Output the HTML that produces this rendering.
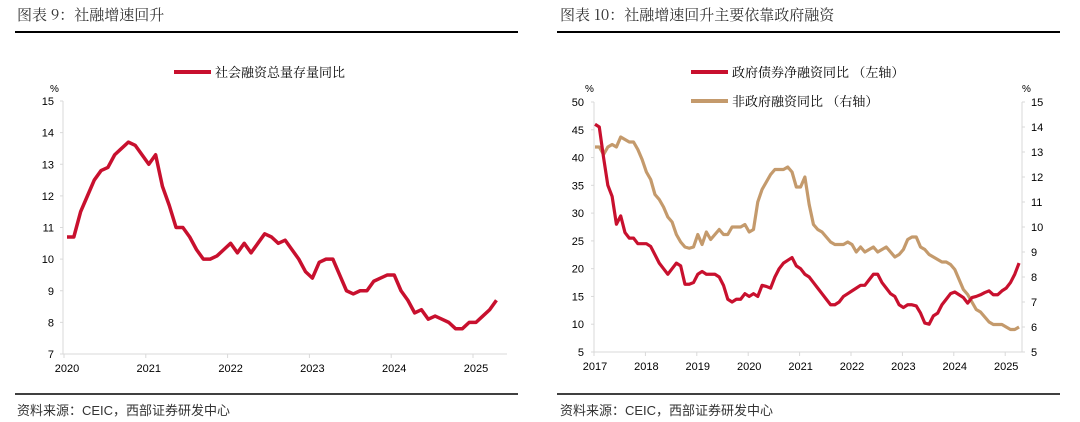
<!DOCTYPE html>
<html><head><meta charset="utf-8"><style>
body{margin:0;background:#fff;width:1080px;height:422px;overflow:hidden;font-family:"Liberation Sans","Noto Sans CJK SC",sans-serif}
svg{position:absolute;left:0;top:0}
</style></head><body>
<svg id="s" width="1080" height="422" font-family="Liberation Sans, Noto Sans CJK SC, sans-serif">
<text x="17" y="20" font-size="15" fill="#333" font-family="Noto Serif CJK SC, serif">图表 9：社融增速回升</text>
<line x1="15" y1="32" x2="518" y2="32" stroke="#000" stroke-width="2"/>
<text x="560" y="20" font-size="15" fill="#333" font-family="Noto Serif CJK SC, serif">图表 10：社融增速回升主要依靠政府融资</text>
<line x1="557" y1="32" x2="1060" y2="32" stroke="#000" stroke-width="2"/>
<line x1="15" y1="394" x2="518" y2="394" stroke="#000" stroke-width="1.5"/>
<line x1="557" y1="394" x2="1060" y2="394" stroke="#000" stroke-width="1.5"/>
<text x="17" y="415" font-size="13" fill="#333">资料来源：CEIC，西部证券研发中心</text>
<text x="560" y="415" font-size="13" fill="#333">资料来源：CEIC，西部证券研发中心</text>
<g id="L"></g><g id="R"></g>
</svg>
<script>
const leftYears=["2020","2021","2022","2023","2024","2025"];
const leftTicks=[7,8,9,10,11,12,13,14,15];
const tsfGrowth=[10.7,10.7,11.5,12.0,12.5,12.8,12.9,13.3,13.5,13.7,13.6,13.3,
13.0,13.3,12.3,11.7,11.0,11.0,10.7,10.3,10.0,10.0,10.1,10.3,
10.5,10.2,10.5,10.2,10.5,10.8,10.7,10.5,10.6,10.3,10.0,9.6,
9.4,9.9,10.0,10.0,9.5,9.0,8.9,9.0,9.0,9.3,9.4,9.5,
9.5,9.0,8.7,8.3,8.4,8.1,8.2,8.1,8.0,7.8,7.8,8.0,
8.0,8.2,8.4,8.7];
const rightYears=["2017","2018","2019","2020","2021","2022","2023","2024","2025"];
const rightLeftTicks=[5,10,15,20,25,30,35,40,45,50];
const rightRightTicks=[5,6,7,8,9,10,11,12,13,14,15];
const govBond=[46,45.5,40,35,33,28,29.5,26.5,25.5,25.5,24.5,24.5,
24.5,24,22.5,21,20,19,20,21,20.5,17.2,17.2,17.5,
19,19.5,19,19,19,18.5,17,14.5,14,14.5,14.5,15.5,
15,15.5,15,17,16.8,16.5,18.5,20,21,21.5,22,20.5,
20,19,18.5,17.5,16.5,15.5,14.5,13.5,13.5,14,15,15.5,
16,16.5,17,17,18,19,19,17.5,16.5,15.5,15,13.5,
13,13.5,13.5,13.3,12,10.2,10,11.5,12,13.5,14.5,15.5,
15.8,15.3,14.8,13.8,14.8,15,15.3,15.7,16,15.3,15.3,16,
16.5,17.5,19,21];
const nonGov=[13.2,13.2,12.9,13.2,13.3,13.2,13.6,13.5,13.4,13.4,13.1,12.7,
12.2,11.9,11.3,11.1,10.8,10.4,10.2,9.7,9.4,9.2,9.15,9.2,
9.7,9.3,9.8,9.5,9.7,9.9,9.7,9.7,10.0,10.0,10.0,10.1,
9.8,9.9,11.0,11.5,11.8,12.1,12.3,12.3,12.3,12.4,12.2,11.6,
11.6,12.0,10.9,10.1,9.9,9.8,9.6,9.4,9.3,9.3,9.3,9.4,
9.3,9.0,9.2,9.0,9.1,9.2,9.0,9.1,9.2,9.0,8.8,8.9,
9.1,9.5,9.6,9.6,9.2,9.1,8.9,8.8,8.7,8.6,8.6,8.5,
8.3,7.9,7.5,7.3,7.0,6.7,6.6,6.4,6.2,6.1,6.1,6.1,
6.0,5.9,5.9,6.0];
const NS="http://www.w3.org/2000/svg";
function mk(p,t,a,txt){const e=document.createElementNS(NS,t);for(const k in a)e.setAttribute(k,a[k]);if(txt!==undefined)e.textContent=txt;p.appendChild(e);return e;}
const RED="#c8102e",TAN="#c49a6c",AX="#d9d9d9";
const L=document.getElementById('L');
const ly=v=>101+(15-v)*(354-101)/8;
const lx=i=>67+i*81.8/12;
let e=mk(L,'line',{x1:63,y1:101,x2:63,y2:354,stroke:AX});


e=mk(L,'line',{x1:63,y1:354,x2:507,y2:354,stroke:AX});


leftTicks.forEach(t=>{e=mk(L,'text',{x:54,y:ly(t)+4,'font-size':11,'text-anchor':'end',fill:'#000'},t);


mk(L,'line',{x1:60,x2:63,y1:ly(t),y2:ly(t),stroke:AX});});
leftYears.forEach((y,i)=>{e=mk(L,'text',{x:lx(i*12),y:372,'font-size':11,'text-anchor':'middle'},y);


mk(L,'line',{x1:lx(i*12)-3,x2:lx(i*12)-3,y1:354,y2:358,stroke:AX});});
e=mk(L,'text',{x:50,y:92,'font-size':10},'%');


e=mk(L,'polyline',{points:tsfGrowth.map((v,i)=>lx(i)+','+ly(v)).join(' '),fill:'none',stroke:RED,'stroke-width':3.5,'stroke-linejoin':'round'});


e=mk(L,'line',{x1:174,y1:72,x2:211,y2:72,stroke:RED,'stroke-width':4});


e=mk(L,'text',{x:215,y:77,'font-size':13,'font-family':'Noto Serif CJK SC, serif'},'社会融资总量存量同比');


const R=document.getElementById('R');
const ryl=v=>102+(50-v)*(352-102)/45;
const ryr=v=>102+(15-v)*(352-102)/10;
const rx=i=>595+i*51.4/12;
e=mk(R,'line',{x1:594,y1:102,x2:594,y2:352,stroke:AX});


e=mk(R,'line',{x1:1022,y1:102,x2:1022,y2:352,stroke:AX});


e=mk(R,'line',{x1:594,y1:352,x2:1022,y2:352,stroke:AX});


rightLeftTicks.forEach(t=>{e=mk(R,'text',{x:584,y:ryl(t)+4,'font-size':11,'text-anchor':'end'},t);


mk(R,'line',{x1:591,x2:594,y1:ryl(t),y2:ryl(t),stroke:AX});});
rightRightTicks.forEach(t=>{e=mk(R,'text',{x:1031,y:ryr(t)+4,'font-size':11},t);


mk(R,'line',{x1:1022,x2:1025,y1:ryr(t),y2:ryr(t),stroke:AX});});
rightYears.forEach((y,i)=>{e=mk(R,'text',{x:rx(i*12),y:370,'font-size':11,'text-anchor':'middle'},y);


mk(R,'line',{x1:rx(i*12)-1,x2:rx(i*12)-1,y1:352,y2:356,stroke:AX});});
e=mk(R,'text',{x:585,y:92,'font-size':10},'%');


e=mk(R,'text',{x:1022,y:92,'font-size':10},'%');


e=mk(R,'polyline',{points:nonGov.map((v,i)=>rx(i)+','+ryr(v)).join(' '),fill:'none',stroke:TAN,'stroke-width':3.2,'stroke-linejoin':'round'});


e=mk(R,'polyline',{points:govBond.map((v,i)=>rx(i)+','+ryl(v)).join(' '),fill:'none',stroke:RED,'stroke-width':3.2,'stroke-linejoin':'round'});


e=mk(R,'line',{x1:691,y1:72,x2:728,y2:72,stroke:RED,'stroke-width':4});


e=mk(R,'text',{x:732,y:77,'font-size':13,'font-family':'Noto Serif CJK SC, serif'},'政府债券净融资同比 （左轴）');


e=mk(R,'line',{x1:691,y1:101,x2:728,y2:101,stroke:TAN,'stroke-width':4});


e=mk(R,'text',{x:732,y:106,'font-size':13,'font-family':'Noto Serif CJK SC, serif'},'非政府融资同比 （右轴）');


</script>
</body></html>
